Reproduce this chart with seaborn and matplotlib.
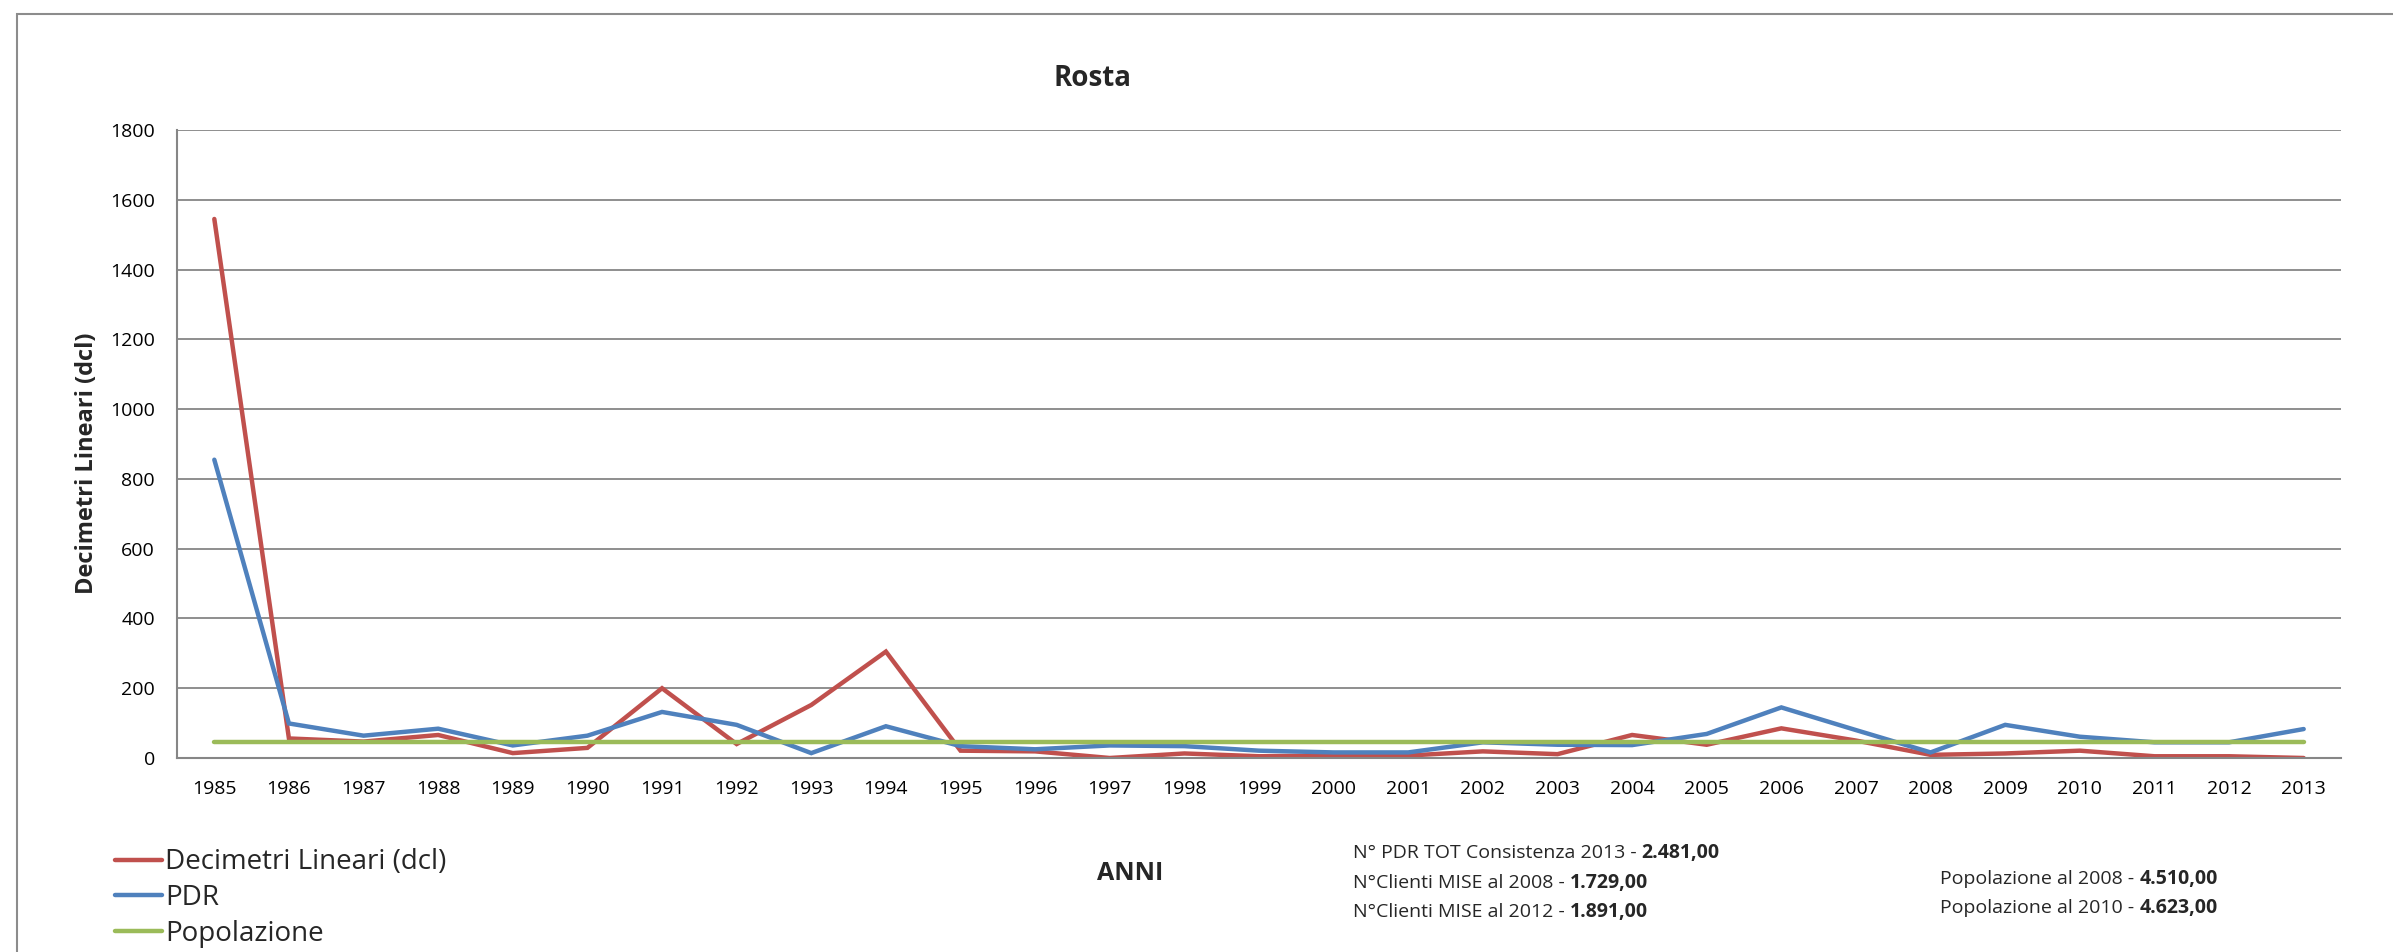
import matplotlib
matplotlib.use("Agg")
import matplotlib.pyplot as plt
import matplotlib.patches as mpatches
from matplotlib.ticker import FixedLocator, NullFormatter
import numpy as np
import pandas as pd
import seaborn as sns

# ---- data ----
years = list(range(1985, 2014))
decimetri = [1545, 56, 47, 66, 14, 29, 200, 40, 152, 305,
             21, 19, 0, 13, 5, 7, 7, 19, 11, 66,
             38, 85, 50, 9, 13, 21, 5, 5, 0]
pdr = [855, 99, 64, 84, 36, 64, 132, 95, 14, 91,
       34, 25, 36, 34, 21, 16, 16, 45, 38, 37,
       69, 145, 80, 16, 95, 61, 45, 45, 83]
popolazione = [45, 45, 45, 45, 45, 45, 45, 45, 45, 45,
               45, 45, 45, 45, 45, 45, 45, 45, 45, 45,
               45, 45, 45, 45, 45, 45, 45, 45, 45]
series_names = ["Decimetri Lineari (dcl)", "PDR", "Popolazione"]
series_colors = ["#C0504D", "#4F81BD", "#9BBB59"]
y_ticks = [0, 200, 400, 600, 800, 1000, 1200, 1400, 1600, 1800]

title = "Rosta"
y_label = "Decimetri Lineari (dcl)"
x_label = "ANNI"
notes_left = [("N° PDR TOT Consistenza 2013 - ", "2.481,00"),
              ("N°Clienti MISE al 2008 - ", "1.729,00"),
              ("N°Clienti MISE al 2012 - ", "1.891,00")]
notes_right = [("Popolazione al 2008 - ", "4.510,00"),
               ("Popolazione al 2010 - ", "4.623,00")]

df = pd.DataFrame({
    "Anno": years * 3,
    "Valore": decimetri + pdr + popolazione,
    "Serie": [series_names[0]] * len(years) + [series_names[1]] * len(years)
             + [series_names[2]] * len(years),
})

# ---- style ----
sns.set_theme(style="white")
plt.rcParams["font.family"] = ["Open Sans", "DejaVu Sans"]

W, H = 2393, 952
fig = plt.figure(figsize=(W / 100, H / 100), dpi=100)
fig.patch.set_facecolor("white")
ax = fig.add_axes([177 / W, 1 - 758 / H, (2341 - 177) / W, (758 - 130) / H])

sns.lineplot(data=df, x="Anno", y="Valore", hue="Serie", hue_order=series_names,
             palette=dict(zip(series_names, series_colors)), linewidth=3.2,
             ax=ax, legend=True, sort=False)
for ln in ax.get_lines():
    ln.set_solid_capstyle("round")
    ln.set_solid_joinstyle("miter")

grid_c = "#868686"
ax.set_ylim(0, 1800)
ax.set_xlim(1984.5, 2013.5)
ax.set_yticks(y_ticks)
ax.set_yticklabels([str(v) for v in y_ticks])
ax.set_xticks(years)
ax.set_xticklabels([str(y) for y in years])
ax.xaxis.set_minor_locator(FixedLocator(np.arange(1984.5, 2014.0, 1.0)))
ax.xaxis.set_minor_formatter(NullFormatter())
ax.tick_params(axis="x", which="major", length=0, pad=16, labelsize=14, labelcolor="black")
ax.tick_params(axis="x", which="minor", length=6, width=1.3, color=grid_c, direction="out")
ax.tick_params(axis="y", which="major", length=6, width=1.3, color=grid_c, direction="out",
               pad=10, labelsize=14, labelcolor="black")
ax.yaxis.grid(True, color=grid_c, linewidth=1.3)
ax.set_axisbelow(True)
for s in ["top", "right"]:
    ax.spines[s].set_visible(False)
for s in ["left", "bottom"]:
    ax.spines[s].set_color(grid_c)
    ax.spines[s].set_linewidth(1.5)
ax.set_xlabel("")
ax.set_ylabel("")

# legend
handles, labels = ax.get_legend_handles_labels()
ax.get_legend().remove()
leg = fig.legend(handles, labels, loc="center left",
                 bbox_to_anchor=(115 / W, 1 - 898 / H), frameon=False,
                 fontsize=20, handlelength=1.7, handletextpad=0.1,
                 labelspacing=0.28, borderpad=0, borderaxespad=0)
for lh in leg.get_lines():
    lh.set_linewidth(3.2)
    lh.set_solid_capstyle("round")

# titles
fig.text(1093 / W, 1 - 79 / H, title, ha="center", va="center",
         fontsize=20, fontweight="bold")
fig.text(87 / W, 1 - 463 / H, y_label, ha="center", va="center",
         rotation=90, fontsize=17, fontweight="bold")
fig.text(1130 / W, 1 - 873 / H, x_label, ha="center", va="center",
         fontsize=18, fontweight="bold")

# notes with bold values
def note(x, y, normal, bold):
    t = fig.text(x / W, 1 - y / H, normal, ha="left", va="center", fontsize=14)
    ann = fig.axes[0].annotate(bold, xy=(1, 0.5), xycoords=t, ha="left", va="center",
                               fontsize=14, fontweight="bold", annotation_clip=False)
    return t, ann

for (a, b), yy in zip(notes_left, [853, 883, 912]):
    note(1353, yy, a, b)
for (a, b), yy in zip(notes_right, [879, 908]):
    note(1940, yy, a, b)

# chart area border (left and top visible)
fig.patches.append(mpatches.Rectangle((17 / W, -0.2), 1.2, 1.2 - 14 / H,
                                      transform=fig.transFigure, fill=False,
                                      edgecolor="#8c8c8c", linewidth=1.5))

fig.savefig("out.png", dpi=100, facecolor="white")
